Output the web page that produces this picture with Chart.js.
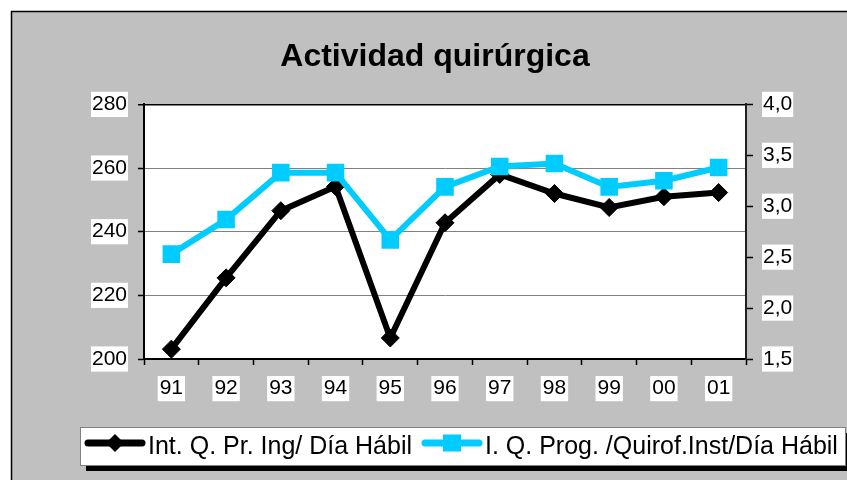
<!DOCTYPE html>
<html>
<head>
<meta charset="utf-8">
<script src="https://cdn.jsdelivr.net/npm/chart.js@4.4.1/dist/chart.umd.min.js"></script>
<style>
  body { margin: 0; background: #fff; }
  canvas { display: block; }
</style>
</head>
<body>
<canvas id="myChart" width="847" height="480"></canvas>
<script>
const years = ['91', '92', '93', '94', '95', '96', '97', '98', '99', '00', '01'];
const intQPrIng = [203.1, 225.5, 246.6, 254.2, 206.6, 242.8, 258.0, 252.0, 247.6, 251.0, 252.3];
const iqProgQuirof = [2.53, 2.87, 3.33, 3.33, 2.67, 3.19, 3.39, 3.42, 3.19, 3.25, 3.38];
const seriesNames = ['Int. Q. Pr. Ing/ Día Hábil', 'I. Q. Prog. /Quirof.Inst/Día Hábil'];
const leftTicks = [200, 220, 240, 260, 280];
const rightTicks = [1.5, 2.0, 2.5, 3.0, 3.5, 4.0];

const FONT = '"Liberation Sans", Arial, sans-serif';
const CYAN = '#00ccff';

// grey frame + white plot area
const backdrop = {
  id: 'backdrop',
  beforeDraw(chart) {
    const c = chart.ctx;
    const a = chart.chartArea;
    c.save();
    c.fillStyle = '#fff';
    c.fillRect(0, 0, chart.width, chart.height);
    c.fillStyle = '#c0c0c0';
    c.fillRect(11, 11, chart.width, chart.height);
    c.strokeStyle = '#000';
    c.lineWidth = 1.5;
    c.strokeRect(11.5, 11.5, chart.width + 10, chart.height + 10);
    c.fillStyle = '#fff';
    c.fillRect(a.left, a.top, a.right - a.left, a.bottom - a.top);
    c.restore();
  }
};

// excel style legend box at the bottom
const excelLegend = {
  id: 'excelLegend',
  afterDraw(chart) {
    const c = chart.ctx;
    const ds = chart.data.datasets;
    const bx = 80, by = 427, bw = 765, bh = 38;
    c.save();
    c.fillStyle = '#000';
    c.fillRect(bx + 6, by + 6, bw, bh);
    c.fillStyle = '#fff';
    c.fillRect(bx, by, bw, bh);
    c.strokeStyle = '#808080';
    c.lineWidth = 1;
    c.strokeRect(bx + 0.5, by + 0.5, bw, bh);

    const starts = [85, 422];
    const ly = 443;
    c.font = '25px ' + FONT;
    c.textBaseline = 'middle';
    ds.forEach((d, i) => {
      const x0 = starts[i];
      c.strokeStyle = d.borderColor;
      c.lineWidth = 7;
      c.lineCap = 'round';
      c.beginPath();
      c.moveTo(x0 + 3, ly);
      c.lineTo(x0 + 57, ly);
      c.stroke();
      c.fillStyle = d.borderColor;
      c.beginPath();
      if (d.pointStyle === 'rectRot') {
        c.moveTo(x0 + 30, ly - 9);
        c.lineTo(x0 + 39, ly);
        c.lineTo(x0 + 30, ly + 9);
        c.lineTo(x0 + 21, ly);
        c.closePath();
      } else {
        c.rect(x0 + 21, ly - 8.5, 18, 17);
      }
      c.fill();
      c.fillStyle = '#000';
      c.fillText(d.label, x0 + 63, 447);
    });
    c.restore();
  }
};

async function mainEvent() {
  const ctx = document.getElementById('myChart');

  new Chart(ctx, {
    type: 'line',
    data: {
      labels: years,
      datasets: [{
        label: seriesNames[0],
        data: intQPrIng,
        yAxisID: 'y',
        borderColor: '#000',
        backgroundColor: '#000',
        borderWidth: 6,
        pointStyle: 'rectRot',
        pointRadius: 9,
        pointBorderWidth: 1,
        order: 1
      }, {
        label: seriesNames[1],
        data: iqProgQuirof,
        yAxisID: 'y1',
        borderColor: CYAN,
        backgroundColor: CYAN,
        borderWidth: 6,
        pointStyle: 'rect',
        pointRadius: 11,
        pointBorderWidth: 2,
        order: 0
      }]
    },
    options: {
      responsive: false,
      animation: false,
      devicePixelRatio: 1,
      layout: { padding: { left: 76, right: 53, top: 0, bottom: 76 } },
      plugins: {
        legend: { display: false },
        tooltip: { enabled: false },
        title: {
          display: true,
          text: 'Actividad quirúrgica',
          color: '#000',
          font: { family: FONT, size: 32, weight: 'bold' },
          padding: { top: 38, bottom: 28 }
        }
      },
      scales: {
        x: {
          offset: true,
          grid: { offset: true, drawOnChartArea: false, tickLength: 6, tickColor: '#000', tickWidth: 1.5 },
          border: { color: '#000', width: 2 },
          ticks: {
            color: '#000',
            font: { family: FONT, size: 21 },
            padding: 11,
            maxRotation: 0,
            showLabelBackdrop: true,
            backdropColor: '#fff',
            backdropPadding: { x: 2, y: 0 }
          },
          afterFit: (s) => { s.height = 45; }
        },
        y: {
          position: 'left',
          min: leftTicks[0],
          max: leftTicks[leftTicks.length - 1],
          afterBuildTicks: (s) => { s.ticks = leftTicks.map((v) => ({ value: v })); },
          grid: {
            color: (c) => (c.tick && c.tick.value === 280 ? '#000' : '#808080'),
            lineWidth: (c) => (c.tick && c.tick.value === 280 ? 1.5 : 1),
            tickLength: 6,
            tickColor: '#000',
            tickWidth: 1.5
          },
          border: { color: '#000', width: 2 },
          ticks: {
            color: '#000',
            font: { family: FONT, size: 21 },
            padding: 11,
            showLabelBackdrop: true,
            backdropColor: '#fff',
            backdropPadding: { x: 1, y: 0 }
          },
          afterFit: (s) => { s.width = 68; }
        },
        y1: {
          position: 'right',
          min: rightTicks[0],
          max: rightTicks[rightTicks.length - 1],
          afterBuildTicks: (s) => { s.ticks = rightTicks.map((v) => ({ value: v })); },
          grid: { drawOnChartArea: false, tickLength: 7, tickColor: '#000', tickWidth: 1.5 },
          border: { color: '#202020', width: 2 },
          ticks: {
            color: '#000',
            font: { family: FONT, size: 21 },
            padding: 10,
            callback: (v) => Number(v).toFixed(1).replace('.', ','),
            showLabelBackdrop: true,
            backdropColor: '#fff',
            backdropPadding: { x: 1, y: 0 }
          },
          afterFit: (s) => { s.width = 48; }
        }
      }
    },
    plugins: [backdrop, excelLegend]
  });
}
document.addEventListener('DOMContentLoaded', async () => mainEvent());
</script>
</body>
</html>
